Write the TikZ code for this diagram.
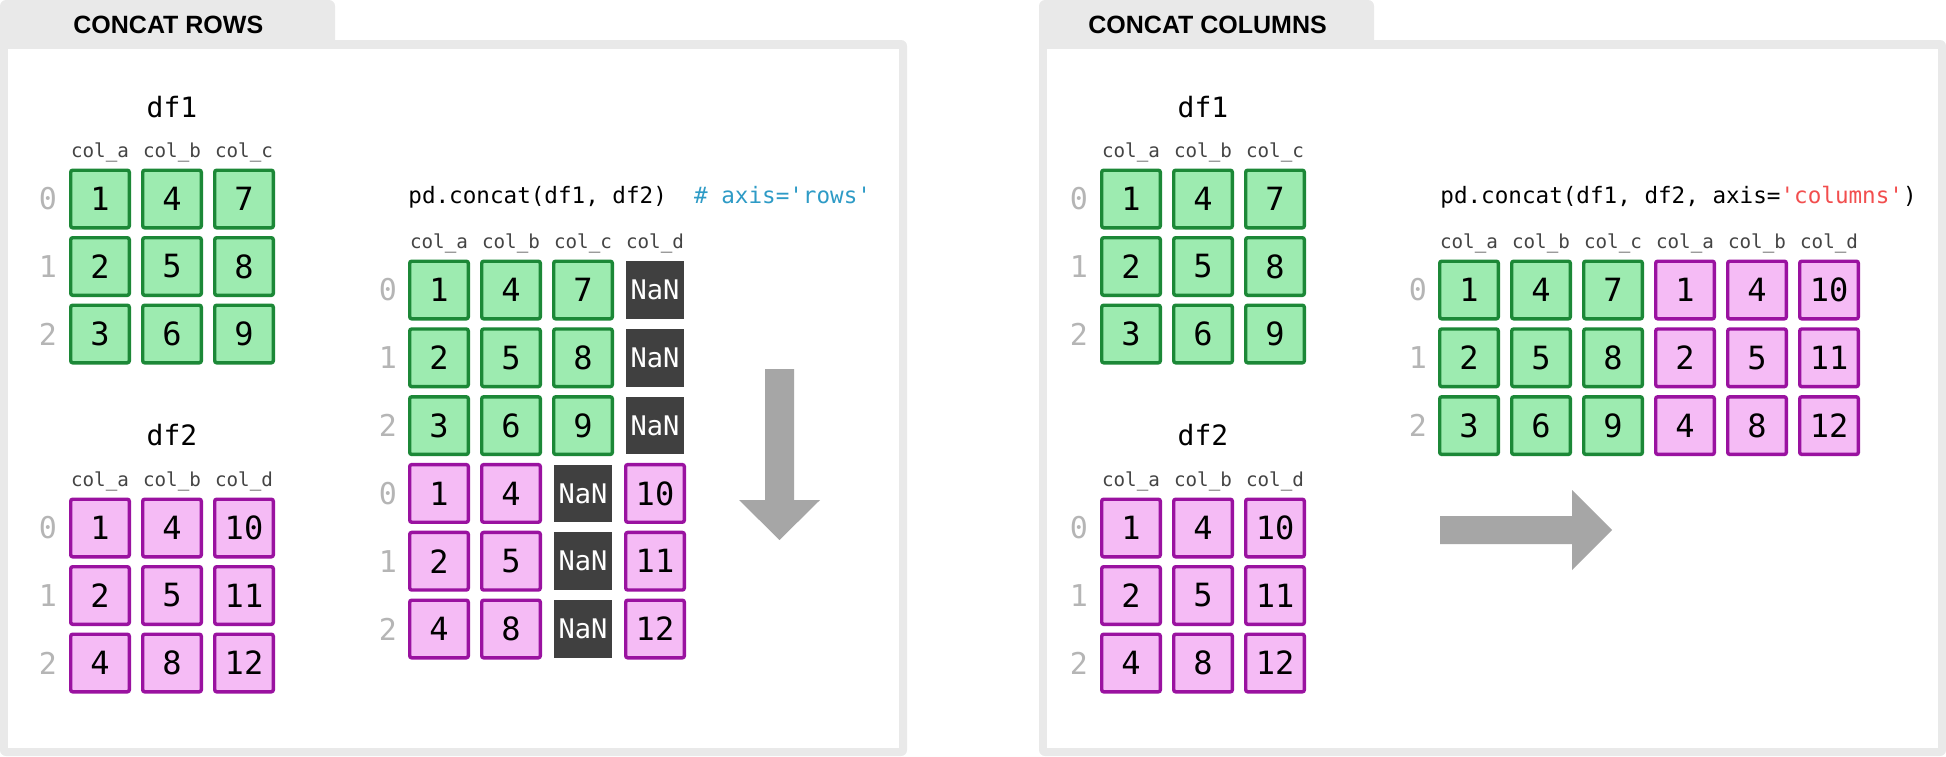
\documentclass[tikz,border=0pt]{standalone}
\usepackage{fontspec}
\setmainfont{Liberation Sans}
\newfontfamily\codefont{DejaVu Sans Mono}
\usepackage{tikz}
\usetikzlibrary{positioning}

\definecolor{panelgray}{HTML}{E9E9E9}
\definecolor{grnfill}{HTML}{9DEBB0}
\definecolor{grnline}{HTML}{1C8837}
\definecolor{purfill}{HTML}{F5BBF5}
\definecolor{purline}{HTML}{9A12A0}
\definecolor{nanfill}{HTML}{404040}
\definecolor{idxgray}{HTML}{B5B5B5}
\definecolor{headgray}{HTML}{444444}
\definecolor{arrowgray}{HTML}{A6A6A6}
\definecolor{cmtblue}{HTML}{2E9BC6}
\definecolor{strred}{HTML}{F24E4E}

\tikzset{
  cell/.style={inner sep=0pt, minimum width=29.3pt, minimum height=28.8pt,
    line width=1.7pt, rounded corners=1pt,
    font=\codefont\fontsize{16}{16}\selectfont},
  gcell/.style={cell, draw=grnline, fill=grnfill},
  pcell/.style={cell, draw=purline, fill=purfill},
  nancell/.style={cell, draw=none, fill=nanfill, text=white,
    minimum width=29pt, rounded corners=0pt,
    font=\codefont\fontsize{13.5}{14}\selectfont},
  idx/.style={text=idxgray, font=\codefont\fontsize{15}{15}\selectfont},
  colhead/.style={anchor=base, text=headgray, font=\codefont\fontsize{9.6}{10}\selectfont},
  dfname/.style={anchor=base, font=\codefont\fontsize{14}{14}\selectfont},
  code/.style={anchor=base west, inner sep=0pt, font=\codefont\fontsize{11.3}{12}\selectfont},
  tabtitle/.style={anchor=base west, inner sep=0pt, font=\bfseries\fontsize{12.5}{13}\selectfont},
  bigarrow/.style={fill=arrowgray}
}

\begin{document}
\begin{tikzpicture}[x=0.5pt,y=-0.5pt]
\useasboundingbox (0,0) rectangle (1946,756);

% panels and tabs
\foreach \px in {0,1039} {
\fill[panelgray, rounded corners=3] (\px,0) rectangle (\px+335,60);
\fill[panelgray, rounded corners=3] (\px,40) rectangle (\px+907,756);
\fill[white] (\px+8,49) rectangle (\px+899,748);
}
\node[tabtitle] (rowstab) at (73,33) {CONCAT ROWS};
\node[tabtitle] (colstab) at (1088,33) {CONCAT COLUMNS};

% df1 and df2, once in each panel
\foreach \px/\p in {0/l,1031/r} {
\node[dfname] (\p df1) at (\px+172,117) {df1};
\foreach \h [count=\c from 0] in {col\_a,col\_b,col\_c}
  \node[colhead] (\p h1\c) at (\px+100+72*\c,157) {\h};
\foreach \vals [count=\r from 0] in {{1,4,7},{2,5,8},{3,6,9}} {
  \node[idx] (\p i1\r) at (\px+48,199+67.5*\r) {\r};
  \foreach \v [count=\c from 0] in \vals
    \node[gcell] (\p a\r\c) at (\px+100+72*\c,199+67.5*\r) {\v};
}
\node[dfname] (\p df2) at (\px+172,445) {df2};
\foreach \h [count=\c from 0] in {col\_a,col\_b,col\_d}
  \node[colhead] (\p h2\c) at (\px+100+72*\c,486) {\h};
\foreach \vals [count=\r from 0] in {{1,4,10},{2,5,11},{4,8,12}} {
  \node[idx] (\p i2\r) at (\px+48,528+67.5*\r) {\r};
  \foreach \v [count=\c from 0] in \vals
    \node[pcell] (\p b\r\c) at (\px+100+72*\c,528+67.5*\r) {\v};
}
}

% concat rows result
\node[code] (rowscode) at (408,203) {pd.concat(df1, df2)\ \ \textcolor{cmtblue}{\# axis='rows'}};
\foreach \h [count=\c from 0] in {col\_a,col\_b,col\_c,col\_d}
  \node[colhead] (rh\c) at (439+72*\c,248) {\h};
\foreach \vals [count=\r from 0] in {{1,4,7},{2,5,8},{3,6,9}} {
  \node[idx] (ri\r) at (388,290+67.8*\r) {\r};
  \foreach \v [count=\c from 0] in \vals
    \node[gcell] (rc\r\c) at (439+72*\c,290+67.8*\r) {\v};
  \node[nancell] (rc\r3) at (655,290+67.8*\r) {NaN};
}
\foreach \vals [count=\r from 0] in {{1,4,10},{2,5,11},{4,8,12}} {
  \pgfmathtruncatemacro\rr{\r+3}
  \node[idx] (ri\rr) at (388,290+67.8*\rr) {\r};
  \foreach \v [count=\c from 0] in \vals {
    \pgfmathtruncatemacro\cc{\c==2 ? 3 : \c}
    \node[pcell] (rc\rr\cc) at (439+72*\cc,290+67.8*\rr) {\v};
  }
  \node[nancell] (rc\rr2) at (583,290+67.8*\rr) {NaN};
}
\fill[bigarrow] (765,369) -- (794,369) -- (794,500) -- (820,500) -- (779.5,540)
  -- (739,500) -- (765,500) -- cycle;

% concat columns result
\node[code] (colscode) at (1440,203) {pd.concat(df1, df2, axis=\textcolor{strred}{'columns'})};
\foreach \h [count=\c from 0] in {col\_a,col\_b,col\_c,col\_a,col\_b,col\_d}
  \node[colhead] (ch\c) at (1469+72*\c,248) {\h};
\foreach \vals [count=\r from 0] in {{1,4,7,1,4,10},{2,5,8,2,5,11},{3,6,9,4,8,12}} {
  \node[idx] (ci\r) at (1418,290+67.8*\r) {\r};
  \foreach \v [count=\c from 0] in \vals {
    \ifnum\c<3 \def\cs{gcell}\else\def\cs{pcell}\fi
    \node[\cs] (cc\r\c) at (1469+72*\c,290+67.8*\r) {\v};
  }
}
\fill[bigarrow] (1440,516) -- (1572,516) -- (1572,490) -- (1612,530) -- (1572,570)
  -- (1572,544) -- (1440,544) -- cycle;
\end{tikzpicture}
\end{document}
